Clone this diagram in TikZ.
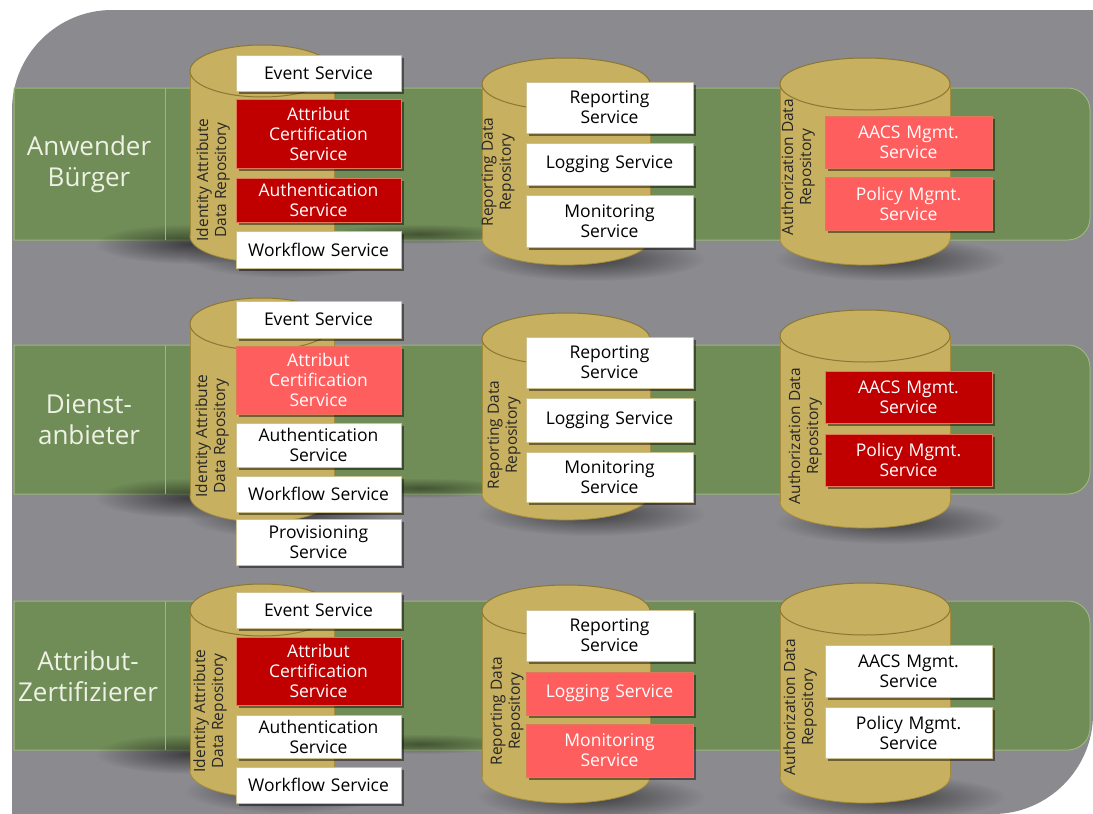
\documentclass[tikz,border=0pt]{standalone}
\usepackage{fontspec}
\setmainfont{Open Sans}
\usetikzlibrary{shadows,fadings}
\definecolor{bggray}{RGB}{138,138,143}
\definecolor{bandgreen}{RGB}{112,140,87}
\definecolor{bandedge}{RGB}{158,182,128}
\definecolor{cylfill}{RGB}{199,176,96}
\definecolor{cyledge}{RGB}{165,140,60}
\definecolor{darkred}{RGB}{192,0,0}
\definecolor{lightred}{RGB}{255,94,94}
\definecolor{whiteedge}{RGB}{205,192,145}
\definecolor{redgedge}{RGB}{225,120,90}
\definecolor{labeltext}{RGB}{238,242,228}
\tikzfading[name=softblob, inner color=transparent!0, outer color=transparent!100]
\tikzset{
  svc/.style={inner sep=0pt, outer sep=0pt, align=center, line width=0.8pt,
    font=\fontsize{17.5}{20}\selectfont,
    drop shadow={shadow xshift=3pt, shadow yshift=-3pt, opacity=0.45, fill=black}},
  svcwhite/.style={svc, fill=white, draw=whiteedge, text=black},
  svcdark/.style={svc, fill=darkred, draw=redgedge, text=white},
  svclight/.style={svc, fill=lightred, draw=redgedge, text=white},
  repolabel/.style={rotate=90, align=center, inner sep=0pt, text=black!85,
    font=\fontsize{15.5}{18}\selectfont},
  rolelabel/.style={align=center, inner sep=0pt, text=labeltext,
    font=\fontsize{26}{31}\selectfont},
  softshadow/.style={fill=black, opacity=0.55, path fading=softblob},
}
% \svcbox{name}{col centre x}{col width}{y1}{y2}{style}{text}
\newcommand\svcbox[7]{%
  \pgfmathsetmacro\svcH{#5-#4}%
  \node[#6, minimum width=#3pt, minimum height=\svcH pt, text width=#3pt] (#1) at (#2,{(#4+#5)/2}) {#7};%
}
% \repocyl{cx}{rx}{top}{bottom}
\newcommand\repocyl[4]{%
  \pgfmathsetmacro\cylT{#3+26}%
  \pgfmathsetmacro\cylB{#4-26}%
  \fill[softshadow] ({#1+25},{#4-6}) ellipse [x radius={#2+30}, y radius=22];
  \filldraw[fill=cylfill, draw=cyledge, line width=0.8pt] (#1,\cylB) ellipse [x radius=#2, y radius=26];
  \fill[cylfill] ({#1-#2},\cylT) rectangle ({#1+#2},\cylB);
  \draw[cyledge, line width=0.8pt] ({#1-#2},\cylT) -- ({#1-#2},\cylB) ({#1+#2},\cylT) -- ({#1+#2},\cylB);
  \filldraw[fill=cylfill, draw=cyledge!85!black, line width=1pt] (#1,\cylT) ellipse [x radius=#2, y radius=26];
}
% \roleband{top}{bottom}
\newcommand\roleband[2]{%
  \filldraw[fill=bandgreen, draw=bandedge, line width=1pt]
    (14,#1) -- (1068,#1) .. controls (1080,#1) and (1090,{#1+10}) .. (1090,{#1+22})
    -- (1090,{#2-22}) .. controls (1090,{#2-10}) and (1080,#2) .. (1068,#2)
    -- (14,#2) -- cycle;
  \fill[softshadow] (190,{#2+4}) ellipse [x radius=95, y radius=20];
  \fill[softshadow, opacity=0.4] (420,{#2-6}) ellipse [x radius=90, y radius=10];
  \draw[bandedge, line width=1pt] (165,#1) -- (165,#2);
}
\begin{document}
\begin{tikzpicture}[x=1pt, y=-1pt]
\useasboundingbox (0,0) rectangle (1093,814);
\fill[white] (0,0) rectangle (1093,814);
% background
\fill[bggray] (12,814) -- (12,110) .. controls (12,55) and (57,10) .. (112,10)
  -- (1093,10) -- (1093,714) .. controls (1093,769) and (1048,814) .. (993,814) -- cycle;
% bands
\roleband{88}{240}
\roleband{345}{494}
\roleband{601}{750}
% role labels
\node[rolelabel] (r1) at (89,164) {Anwender\\Bürger};
\node[rolelabel] (r2) at (89,420) {Dienst-\\anbieter};
\node[rolelabel] (r3) at (88,676) {Attribut-\\Zertifizierer};
% cylinders
\repocyl{262}{72}{45}{262}
\repocyl{566}{84}{58}{265}
\repocyl{865}{85}{58}{265}
\repocyl{262}{72}{298}{522}
\repocyl{566}{84}{313}{520}
\repocyl{865}{85}{310}{528}
\repocyl{262}{72}{584}{797}
\repocyl{566}{84}{585}{803}
\repocyl{865}{85}{583}{803}
% repository labels
\node[repolabel] (id1) at (213,180) {Identity Attribute\\Data Repository};
\node[repolabel] (rd1) at (498,172) {Reporting Data\\Repository};
\node[repolabel] (ad1) at (798,167) {Authorization Data\\Repository};
\node[repolabel] (id2) at (212,436) {Identity Attribute\\Data Repository};
\node[repolabel] (rd2) at (504,435) {Reporting Data\\Repository};
\node[repolabel] (ad2) at (805,436) {Authorization Data\\Repository};
\node[repolabel] (id3) at (210,711) {Identity Attribute\\Data Repository};
\node[repolabel] (rd3) at (507,711) {Reporting Data\\Repository};
\node[repolabel] (ad3) at (800,707) {Authorization Data\\Repository};
% identity column
\svcbox{ev1}{318.5}{165}{55}{91}{svcwhite}{Event Service}
\svcbox{ac1}{318.5}{165}{99}{168}{svcdark}{Attribut\\Certification\\Service}
\svcbox{au1}{318.5}{165}{178}{222}{svcdark}{Authentication\\Service}
\svcbox{wf1}{318.5}{165}{231}{268}{svcwhite}{Workflow Service}
\svcbox{ev2}{318.5}{165}{301}{338}{svcwhite}{Event Service}
\svcbox{ac2}{318.5}{165}{346}{414}{svclight}{Attribut\\Certification\\Service}
\svcbox{au2}{318.5}{165}{423}{467}{svcwhite}{Authentication\\Service}
\svcbox{wf2}{318.5}{165}{476}{512}{svcwhite}{Workflow Service}
\svcbox{pv2}{318.5}{165}{519}{565}{svcwhite}{Provisioning\\Service}
\svcbox{ev3}{318.5}{165}{592}{628}{svcwhite}{Event Service}
\svcbox{ac3}{318.5}{165}{637}{705}{svcdark}{Attribut\\Certification\\Service}
\svcbox{au3}{318.5}{165}{715}{758}{svcwhite}{Authentication\\Service}
\svcbox{wf3}{318.5}{165}{767}{803}{svcwhite}{Workflow Service}
% reporting column
\svcbox{rp1}{609.5}{167}{82}{133}{svcwhite}{Reporting\\Service}
\svcbox{lg1}{609.5}{167}{143}{185}{svcwhite}{Logging Service}
\svcbox{mn1}{609.5}{167}{195}{247}{svcwhite}{Monitoring\\Service}
\svcbox{rp2}{609.5}{167}{337}{388}{svcwhite}{Reporting\\Service}
\svcbox{lg2}{609.5}{167}{398}{442}{svcwhite}{Logging Service}
\svcbox{mn2}{609.5}{167}{452}{502}{svcwhite}{Monitoring\\Service}
\svcbox{rp3}{609.5}{167}{610}{661}{svcwhite}{Reporting\\Service}
\svcbox{lg3}{609.5}{167}{672}{715}{svclight}{Logging Service}
\svcbox{mn3}{609.5}{167}{724}{777}{svclight}{Monitoring\\Service}
% authorization column
\svcbox{aa1}{908.5}{167}{116}{168}{svclight}{AACS Mgmt.\\Service}
\svcbox{pm1}{908.5}{167}{177}{230}{svclight}{Policy Mgmt.\\Service}
\svcbox{aa2}{908.5}{167}{371}{423}{svcdark}{AACS Mgmt.\\Service}
\svcbox{pm2}{908.5}{167}{434}{486}{svcdark}{Policy Mgmt.\\Service}
\svcbox{aa3}{908.5}{167}{645}{697}{svcwhite}{AACS Mgmt.\\Service}
\svcbox{pm3}{908.5}{167}{707}{758}{svcwhite}{Policy Mgmt.\\Service}
\end{tikzpicture}
\end{document}
